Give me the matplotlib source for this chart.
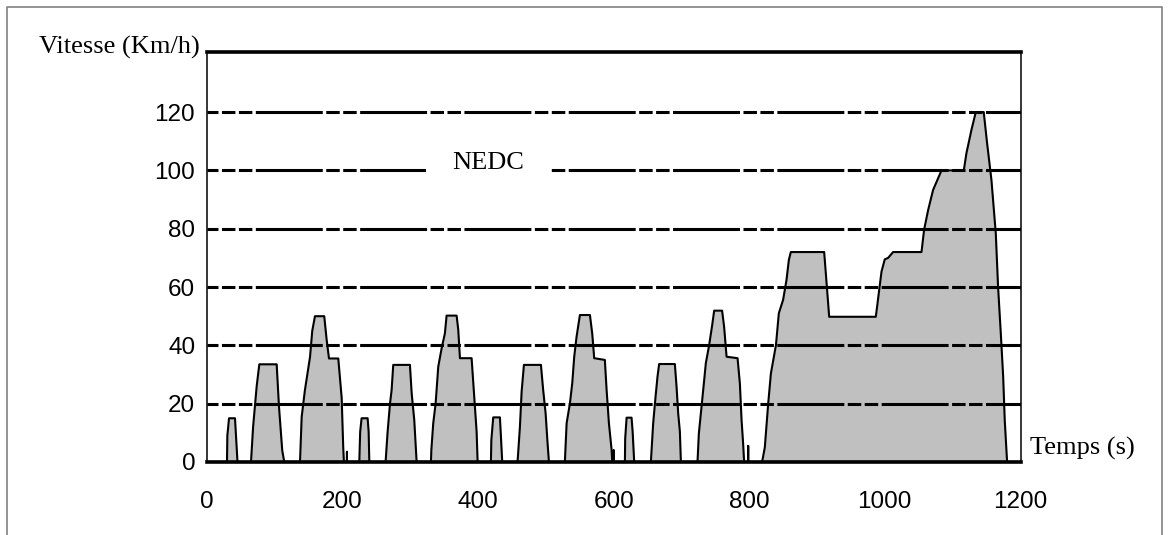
import numpy as np
import matplotlib
matplotlib.use('Agg')
import matplotlib.pyplot as plt
from matplotlib.lines import Line2D

# NEDC speed trace (time in s, speed in km/h)
idle_t = [0]
idle_v = [0]
ece1_t = [29.5, 30, 32.5, 41.3, 43, 45,
          64.9, 68, 73.3, 77.2, 102.8, 106.2, 111, 114,
          137.2, 139.7, 144.5, 152, 155.3, 159.3, 173, 176.5, 180, 193.7, 198.7, 201, 202, 206.5, 206.5, 206.5]
ece1_v = [0, 9, 15, 15, 8, 0,
          0, 12, 26, 33.5, 33.5, 19, 4, 0,
          0, 15.5, 24.7, 36, 45, 50, 50, 42, 35.5, 35.5, 22, 5, 0, 0, 3.5, 0]
ece2_t = [224.7, 226, 228.1, 237, 238.5, 239.5,
          263.5, 266.5, 270, 272.4, 274.8, 299.4, 302, 305.8, 307.8, 309.3,
          330.4, 331, 333.8, 337.3, 341.2, 346.2, 351, 353.5, 368.3, 370.7, 373.2, 390.4, 394.3, 397.8, 399.3]
ece2_v = [0, 10.4, 15, 15, 10.4, 0,
          0, 10.4, 20, 24.7, 33.3, 33.3, 23.5, 14.4, 6.4, 0,
          0, 4.1, 13.3, 20, 32.7, 39, 44.1, 50.2, 50.2, 45.4, 35.6, 35.6, 22.4, 10.4, 0]
ece3_t = [418.9, 419.5, 422.3, 432.2, 434, 435.6,
          458.2, 461.7, 464.2, 467.6, 492.7, 496, 499.6, 502.5, 504.5,
          528, 530.6, 535.4, 538.9, 541.8, 545.3, 550.2, 565, 568.4, 571.3, 587, 589.6, 593, 597, 597.9, 600, 600, 600]
ece3_v = [0, 7.4, 15.3, 15.3, 7.4, 0,
          0, 12.1, 24.1, 33.3, 33.3, 24.7, 16.7, 6.4, 0,
          0, 13.3, 20, 27, 36.1, 43, 50.4, 50.4, 44, 35.6, 35, 24.7, 13.3, 4.1, 0, 0, 4, 0]
ece4_t = [616.6, 617, 619.1, 626.4, 628, 630.3,
          654.9, 658.3, 661.8, 664.7, 667.1, 690.3, 692.8, 695.2, 697.7, 699.2,
          723.7, 725.7, 729.7, 733.1, 736, 740.9, 745.4, 748.3, 760, 763, 766.6, 782.8, 786.2, 788.7, 791, 792.5,
          798.5, 798.5, 798.5]
ece4_v = [0, 8, 15.2, 15.2, 10.4, 0,
          0, 13.3, 22.4, 29.3, 33.6, 33.6, 25.8, 16.7, 10.4, 0,
          0, 9.8, 19, 27, 33.9, 40.1, 47, 51.9, 51.9, 46.3, 36.1, 35.6, 27, 14.4, 6.4, 0,
          0, 5.5, 0]
eudc_t = [819, 823, 828, 832, 839.4, 843.7, 850, 855, 858.5, 861.4, 910.6, 914, 918,
          986.8, 990, 995.2, 1000, 1005, 1012.3, 1054.2, 1058, 1064, 1071.3, 1083.7,
          1116.6, 1120.5, 1127.9, 1134.3, 1146, 1151, 1157.4, 1163.8, 1167.2, 1171.2,
          1174.7, 1177, 1180.5, 1201]
eudc_v = [0, 5, 20, 30.4, 40, 51, 55.6, 62.4, 69.3, 72, 72, 61.8, 49.8,
          49.8, 55.6, 65.3, 69.5, 70, 72, 72, 79.6, 86.4, 93.3, 100,
          100, 105.9, 113.9, 120, 120, 109.3, 96.7, 78.4, 60, 44.1,
          29.3, 14.4, 0, 0]

x_ticks = [0, 200, 400, 600, 800, 1000, 1200]
y_ticks = [0, 20, 40, 60, 80, 100, 120]

t = np.array(idle_t + ece1_t + ece2_t + ece3_t + ece4_t + eudc_t)
v = np.array(idle_v + ece1_v + ece2_v + ece3_v + ece4_v + eudc_v)

plt.rcParams['lines.scale_dashes'] = False
serif = ['Liberation Serif', 'DejaVu Serif']
narrow = ['Liberation Sans Narrow', 'Liberation Sans', 'DejaVu Sans']

W, H = 1169, 535
fig = plt.figure(figsize=(W / 100, H / 100), dpi=100)
ax = fig.add_axes([207 / W, 1 - 462 / H, 814 / W, (462 - 52.3) / H])

ax.fill_between(t, 0, v, color='#c0c0c0', linewidth=0, zorder=1)
ax.plot(t, v, color='black', lw=1.5, zorder=2)

ax.set_xlim(0, 1201)
ax.set_ylim(0, 140.5)

ax.set_xticks(x_ticks)
ax.set_yticks(y_ticks)
ax.set_xticks([1000], minor=True)
ax.tick_params(axis='x', which='major', length=0, pad=21)
ax.tick_params(axis='y', which='major', length=0, pad=8.5)
ax.tick_params(axis='x', which='minor', direction='in', length=10, width=1.3, color='black')
for lab in ax.get_xticklabels() + ax.get_yticklabels():
    lab.set_family(narrow)
    lab.set_fontsize(17.5)

ax.set_axisbelow(False)
ax.yaxis.grid(True, color='black', linewidth=2.2,
              linestyle=(40.3, (48.2, 2.5, 9.7, 2.5, 9.7, 2.5)))

for side in ['top', 'bottom']:
    ax.spines[side].set_linewidth(2.6)
for side in ['left', 'right']:
    ax.spines[side].set_linewidth(1.1)

ax.text(-0.009, 1.013, 'Vitesse (Km/h)', transform=ax.transAxes, ha='right', va='center',
        family=serif, fontsize=19)
ax.text(1.011, 0.032, 'Temps (s)', transform=ax.transAxes, ha='left', va='center',
        family=serif, fontsize=19)
ax.text(0.345, 0.73, 'NEDC', transform=ax.transAxes, ha='center', va='center',
        family=serif, fontsize=19, zorder=4,
        bbox=dict(boxstyle='square,pad=1.0', facecolor='white', edgecolor='none'))

# thin grey frame around the picture
fig.add_artist(Line2D([7 / W, 7 / W, 1162 / W, 1162 / W], [0, 1 - 7 / H, 1 - 7 / H, 0],
                      transform=fig.transFigure, color='#808080', lw=1.2))

fig.savefig('out.png', dpi=100)
